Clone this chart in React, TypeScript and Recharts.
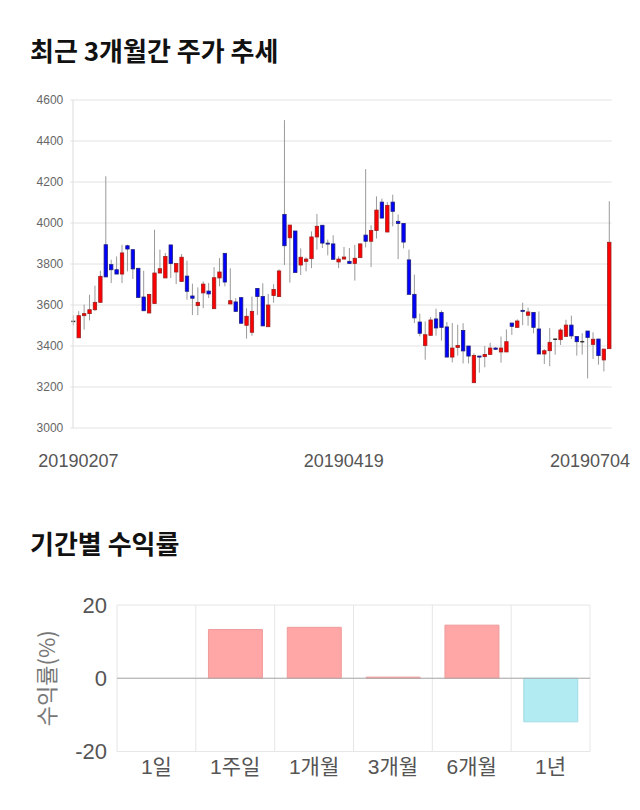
import React from "react";
import {
  ComposedChart,
  BarChart,
  Bar,
  XAxis,
  YAxis,
  CartesianGrid,
  ReferenceLine,
  Cell,
} from "recharts";

// 최근 3개월 일봉 (시가 / 고가 / 저가 / 종가)
const opens = [
  3520, 3440, 3548, 3558, 3577, 3613, 3894, 3797, 3772, 3751,
  3889, 3870, 3779, 3639, 3561, 3607, 3756, 3732, 3893, 3761,
  3715, 3741, 3644, 3597, 3659, 3668, 3582, 3732, 3852, 3605,
  3615, 3636, 3501, 3467, 3681, 3641, 3494, 3646, 3641, 4042,
  3928, 3961, 3795, 3813, 3826, 3932, 3989, 3902, 3898, 3810,
  3824, 3813, 3803, 3831, 3941, 3911, 3963, 4102, 3956, 4102,
  4008, 3998, 3820, 3652, 3517, 3402, 3452, 3532, 3563, 3493,
  3346, 3393, 3476, 3400, 3221, 3351, 3348, 3359, 3390, 3371,
  3371, 3512, 3491, 3574, 3550, 3564, 3483, 3361, 3377, 3433,
  3431, 3447, 3502, 3446, 3421, 3473, 3408, 3434, 3332, 3387,
];
const highs = [
  3550, 3570, 3602, 3650, 3694, 3767, 4228, 3821, 3837, 3894,
  3894, 3870, 3780, 3767, 3652, 3967, 3870, 3854, 3893, 3802,
  3849, 3816, 3704, 3686, 3715, 3707, 3785, 3829, 3852, 3779,
  3633, 3636, 3584, 3641, 3681, 3706, 3654, 3702, 3774, 4502,
  3990, 3961, 3876, 3832, 3959, 4044, 3989, 3919, 3940, 3837,
  3883, 3878, 3893, 3900, 4263, 3989, 4130, 4119, 4102, 4138,
  4041, 3998, 3870, 3748, 3558, 3520, 3541, 3582, 3574, 3517,
  3512, 3504, 3511, 3400, 3364, 3351, 3400, 3416, 3395, 3446,
  3481, 3512, 3530, 3611, 3587, 3564, 3569, 3385, 3488, 3436,
  3486, 3528, 3548, 3446, 3463, 3473, 3467, 3434, 3385, 4106,
];
const lows = [
  3500, 3440, 3480, 3525, 3570, 3613, 3737, 3707, 3750, 3707,
  3764, 3727, 3637, 3572, 3561, 3607, 3756, 3732, 3732, 3702,
  3715, 3626, 3551, 3550, 3584, 3634, 3582, 3691, 3691, 3605,
  3569, 3511, 3436, 3450, 3551, 3498, 3494, 3611, 3641, 3795,
  3709, 3759, 3746, 3764, 3780, 3870, 3878, 3842, 3823, 3780,
  3824, 3803, 3719, 3831, 3881, 3785, 3924, 4024, 3956, 3984,
  3824, 3876, 3652, 3512, 3447, 3333, 3452, 3450, 3426, 3346,
  3320, 3353, 3315, 3315, 3221, 3270, 3296, 3359, 3380, 3319,
  3371, 3454, 3491, 3502, 3499, 3462, 3361, 3312, 3301, 3358,
  3405, 3447, 3434, 3353, 3358, 3242, 3337, 3309, 3276, 3387,
];
const closes = [
  3520, 3548, 3558, 3577, 3613, 3740, 3737, 3772, 3751, 3854,
  3873, 3776, 3637, 3572, 3652, 3756, 3777, 3837, 3802, 3802,
  3833, 3667, 3633, 3613, 3702, 3654, 3733, 3761, 3712, 3621,
  3569, 3511, 3545, 3569, 3641, 3498, 3600, 3676, 3766, 3889,
  3990, 3759, 3833, 3824, 3932, 3984, 3902, 3898, 3823, 3824,
  3834, 3803, 3828, 3898, 3911, 3963, 4063, 4024, 4086, 4057,
  3998, 3907, 3652, 3537, 3462, 3455, 3527, 3488, 3491, 3346,
  3390, 3403, 3376, 3351, 3354, 3346, 3359, 3390, 3384, 3390,
  3421, 3496, 3522, 3569, 3566, 3491, 3361, 3377, 3418, 3433,
  3478, 3502, 3449, 3421, 3421, 3442, 3433, 3353, 3385, 3906,
];
const priceTicks = [3000, 3200, 3400, 3600, 3800, 4000, 4200, 4400, 4600];
const dateTickIndexes = [1, 50, 99];
const dateTickLabels = ["20190207", "20190419", "20190704"];

// 기간별 수익률
const periods = ["1일", "1주일", "1개월", "3개월", "6개월", "1년"];
const returns = [0, 13.3, 13.9, 0.3, 14.5, -11.9];
const returnTicks = [-20, 0, 20];

const candles = opens.map((o, i) => ({
  idx: i,
  open: o,
  high: highs[i],
  low: lows[i],
  close: closes[i],
  range: [lows[i], highs[i]],
}));

const returnRows = periods.map((p, i) => ({ period: p, value: returns[i], pos: i + 0.5 }));

const LATIN = "'Liberation Sans', 'Noto Sans CJK KR', sans-serif";
const KR = "'Noto Sans CJK KR', sans-serif";

function Candle(props: any) {
  const { x, y, width, height, payload } = props;
  const { open, close, high, low } = payload;
  const span = high - low;
  const py = (v: number) => (span === 0 ? y : y + ((high - v) / span) * height);
  const cx = x + width / 2;
  const top = py(Math.max(open, close));
  const bottom = py(Math.min(open, close));
  const flat = open === close;
  const up = close > open;
  return (
    <g>
      <line x1={cx} x2={cx} y1={y} y2={y + height} stroke="#9a9a9a" strokeWidth={1} />
      {flat ? (
        <line x1={x} x2={x + width} y1={top} y2={top} stroke="#333" strokeWidth={1.5} />
      ) : (
        <rect
          x={x + 0.3}
          y={top}
          width={width - 0.6}
          height={Math.max(bottom - top, 1)}
          fill={up ? "#ff0000" : "#0000ff"}
          stroke={up ? "#9b2020" : "#20207a"}
          strokeWidth={0.8}
        />
      )}
    </g>
  );
}

function DateTick(props: any) {
  const { x, y, payload } = props;
  const k = dateTickIndexes.indexOf(payload.value);
  if (k < 0) return null;
  return (
    <text
      x={Math.min(x, 590)}
      y={y + 39}
      textAnchor="middle"
      fill="#555"
      fontSize={18}
      fontFamily={LATIN}
    >
      {dateTickLabels[k]}
    </text>
  );
}

function ReturnAxisLabel(props: any) {
  const vb = props.viewBox;
  const cx = vb.x + 45;
  const cy = vb.y + vb.height / 2;
  return (
    <text
      x={cx}
      y={cy}
      transform={`rotate(-90 ${cx} ${cy})`}
      textAnchor="middle"
      dominantBaseline="central"
      fill="#777"
      fontSize={22}
      fontFamily={KR}
    >
      수익률(%)
    </text>
  );
}

const titleStyle: React.CSSProperties = {
  position: "absolute",
  left: 30,
  fontFamily: KR,
  fontWeight: 700,
  fontSize: 26,
  lineHeight: "26px",
  color: "#111",
  whiteSpace: "nowrap",
};

export default function App() {
  return (
    <div
      style={{
        position: "absolute",
        left: 0,
        top: 0,
        width: 640,
        height: 810,
        background: "#fff",
        overflow: "hidden",
      }}
    >
      <div style={{ ...titleStyle, top: 37 }}>최근 3개월간 주가 추세</div>

      <div style={{ position: "absolute", left: 0, top: 85 }}>
        <ComposedChart
          width={640}
          height={400}
          data={candles}
          margin={{ top: 15, right: 28.3, bottom: 0, left: 0 }}
        >
          <CartesianGrid vertical={false} stroke="#e2e2e2" />
          <XAxis
            dataKey="idx"
            type="category"
            interval={0}
            height={57}
            axisLine={false}
            tickLine={false}
            tickSize={0}
            tickMargin={0}
            tick={<DateTick />}
          />
          <YAxis
            width={70.3}
            domain={[3000, 4600]}
            ticks={priceTicks}
            axisLine={false}
            tickLine={false}
            tickSize={0}
            tickMargin={7}
            tick={{ fill: "#666", fontSize: 12, fontFamily: LATIN }}
          />
          <ReferenceLine x={0} stroke="#dcdcdc" />
          <Bar dataKey="range" barSize={4} shape={<Candle />} isAnimationActive={false} />
        </ComposedChart>
      </div>

      <div style={{ ...titleStyle, top: 530 }}>기간별 수익률</div>

      <div style={{ position: "absolute", left: 0, top: 590 }}>
        <BarChart
          width={640}
          height={210}
          data={returnRows}
          margin={{ top: 15, right: 50, bottom: 18.5, left: 0 }}
          barCategoryGap="16%"
        >
          <CartesianGrid xAxisId="grid" stroke="#e6e6e6" />
          <XAxis
            xAxisId="grid"
            dataKey="pos"
            type="number"
            domain={[0, 6]}
            ticks={[0, 1, 2, 3, 4, 5, 6]}
            height={0}
            axisLine={false}
            tickLine={{ stroke: "#e6e6e6" }}
            tickSize={10}
            tickFormatter={() => ""}
          />
          <XAxis
            dataKey="period"
            height={30}
            axisLine={false}
            tickLine={false}
            tickSize={0}
            tickMargin={8}
            tick={{ fill: "#555", fontSize: 21, fontFamily: LATIN }}
          />
          <YAxis
            width={117}
            domain={[-20, 20]}
            ticks={returnTicks}
            axisLine={false}
            tickLine={false}
            tickSize={0}
            tickMargin={10}
            tick={{ fill: "#555", fontSize: 22, fontFamily: LATIN }}
            label={<ReturnAxisLabel />}
          />
          <ReferenceLine y={0} stroke="#aaa" />
          <Bar dataKey="value" isAnimationActive={false} strokeWidth={1}>
            {returnRows.map((r, i) => (
              <Cell
                key={i}
                fill={r.value >= 0 ? "#ffa6a6" : "#b2ebf2"}
                stroke={r.value >= 0 ? "#f09b9b" : "#a3dce6"}
              />
            ))}
          </Bar>
        </BarChart>
      </div>
    </div>
  );
}
